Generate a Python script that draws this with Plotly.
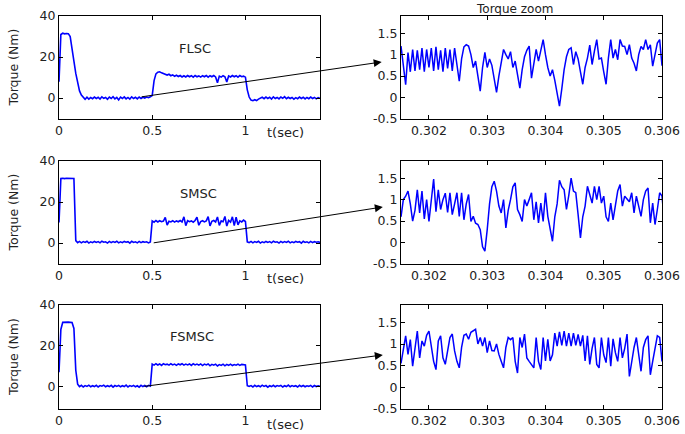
import numpy as np
import plotly.graph_objects as go

# ---------------- data ----------------
# full-run torque (Nm), sampled every 0.01 s from 0 to 1.40 s
t_full = np.round(np.arange(141) * 0.01, 2)

torque_flsc = [8, 31, 31.6, 31.3, 31.5, 31.4, 30.0, 25.0, 18.0, 12.0, 7.0, 3.5, 1.5, 0.2, -0.6,
               0.4, -0.5, 0.3, -0.3, 0.5, -0.2, 0.4, -0.5, 0.6, -0.1, 0.3, -0.6, 0.5, -0.2, 0.7,
               -0.4, 0.3, -0.9, 0.5, -0.2, 0.6, -0.4, 0.3, -0.5, 0.6, -0.2, 0.4, -0.4, 0.5, -0.2,
               0.4, 0.0, 0.5, 0.2, 0.6,
               1.2, 8.5, 11.8, 12.6, 12.8, 12.3, 12.0, 11.7, 11.2, 11.6,
               10.9, 11.3, 10.6, 11.1, 10.5, 11.0, 10.3, 10.9, 10.3, 11.0,
               10.4, 10.9, 10.2, 11.0, 10.4, 10.8, 10.2, 10.9, 10.4, 11.0,
               10.2, 10.9, 10.4, 11.0, 10.3, 7.5, 10.7, 10.2, 10.9, 10.4,
               7.8, 10.8, 10.3, 11.0, 10.4, 10.9, 10.2, 11.0, 10.4, 10.7,
               10.2, 4.0, 0.5, -1.0, -1.3, -0.8, -1.2, -0.5, -0.2, 0.4,
               -0.3, 0.5, -0.2, 0.4, -0.5, 0.6, -0.2, 0.3, -0.4, 0.5, -0.1, 0.7, -0.3, 0.4, -0.2,
               0.3, -0.5, 0.2, -0.3, 0.5, -0.2, 0.4, -0.4, 0.3, -0.3, 0.5, -0.2, 0.3, -0.4, 0.2, -0.1]

torque_smsc = [10, 31.5, 31.6, 31.4, 31.6, 31.5, 31.4, 31.6, 31.5, 1.2,
               0.2, 0.8, 0.1, 0.7, 0.3, 0.9, 0.0, 0.6, 0.2, 0.8,
               0.3, 0.7, 0.1, 0.9, 0.4, 0.6, 0.0, 0.8, 0.2, 0.7,
               0.3, 0.9, 0.1, 0.6, 0.2, 0.8, 0.4, 0.7, 0.0, 0.9,
               0.3, 0.6, 0.1, 0.8, 0.2, 0.7, 0.4, 0.6, 0.1, 0.5,
               10.8, 10.2, 11.0, 10.3, 10.9, 10.4, 10.7, 12.5, 8.8, 10.6,
               10.3, 10.9, 10.2, 10.8, 10.4, 11.0, 10.3, 12.8, 8.5, 10.9,
               10.4, 10.8, 10.2, 11.0, 12.6, 8.7, 10.5, 10.9, 10.3, 10.8,
               12.9, 8.4, 10.6, 11.0, 10.3, 12.7, 8.6, 10.8, 10.4, 13.0,
               8.3, 11.0, 10.2, 12.8, 8.5, 12.6, 8.9, 10.8, 10.3, 11.2,
               10.5, 0.6,
               0.2, 0.8, 0.1, 0.7, 0.3, 0.9, 0.0, 0.6, 0.2, 0.8,
               0.3, 0.7, 0.1, 0.9, 0.4, 0.6, 0.0, 0.8, 0.2, 0.7,
               0.3, 0.9, 0.1, 0.6, 0.2, 0.8, 0.4, 0.7, 0.0, 0.9,
               0.3, 0.6, 0.1, 0.8, 0.2, 0.7, 0.4, 0.6, 0.3]

torque_fsmsc = [7, 28, 31.5, 31.6, 31.4, 31.6, 31.5, 31.4, 28.5, 8.0, 1.2,
                0.0, 0.6, -0.2, 0.5, 0.1, 0.7, -0.1, 0.4, 0.0, 0.6,
                -0.2, 0.5, 0.2, 0.7, -0.1, 0.4, 0.0, 0.6, -0.3, 0.5,
                0.1, 0.6, -0.1, 0.4, 0.0, 0.7, -0.2, 0.5, 0.1, 0.6,
                -0.1, 0.4, -0.3, 0.6, 0.0, 0.5, -0.1, 0.6, 0.2,
                11.0, 10.5, 11.2, 10.6, 11.1, 10.4, 11.2, 10.7, 11.0, 10.5,
                11.2, 10.6, 11.0, 10.4, 11.1, 10.7, 11.2, 10.5, 11.0, 10.6,
                11.1, 10.4, 11.2, 10.6, 11.0, 10.5, 11.1, 10.3, 11.0, 10.6,
                11.1, 10.2, 10.9, 10.5, 11.0, 10.1, 10.8, 10.4, 11.0, 10.2,
                10.9, 10.4, 11.0, 10.3, 10.8, 10.5, 11.0, 10.4, 10.9, 10.6,
                10.6, 0.4,
                0.1, 0.5, -0.2, 0.6, 0.0, 0.4, -0.1, 0.7, 0.1, 0.5,
                -0.3, 0.4, 0.0, 0.6, -0.1, 0.5, 0.2, 0.6, -0.2, 0.4,
                0.0, 0.7, -0.1, 0.5, 0.1, 0.4, -0.2, 0.6, 0.0, 0.5,
                -0.1, 0.4, 0.1, 0.6, -0.2, 0.5, 0.0, 0.4, 0.1]

# zoomed torque (Nm), sampled every 0.04 ms from 0.30152 s
t_zoom = 0.30152 + np.arange(114) * 0.00004

zoom_flsc = [1.2, 0.75, 0.3, 1.05, 0.6, 1.12, 0.62, 1.1, 0.65, 1.15,
             0.6, 1.12, 0.7, 1.15, 0.62, 1.18, 0.65, 1.1, 0.6, 1.15,
             0.68, 1.12, 0.62, 1.15, 0.75, 0.38, 0.9, 1.18, 1.23, 1.2,
             1.0, 0.7, 0.85, 0.5, 0.15, 0.7, 1.05, 0.7, 0.9, 0.75,
             0.45, 0.12, 0.5, 0.85, 1.12, 1.0, 0.9, 1.07, 0.7, 0.85,
             0.55, 0.22, 0.65, 0.95, 1.1, 1.2, 0.45, 0.8, 1.12, 0.85,
             1.1, 1.35, 1.0, 0.7, 0.5, 0.65, 0.4, 0.05, -0.2, 0.2,
             0.65, 0.95, 1.12, 1.16, 0.77, 1.07, 0.9, 0.6, 0.31, 0.7,
             0.92, 1.22, 0.77, 1.08, 1.35, 0.9, 0.92, 0.6, 0.31, 0.92,
             1.35, 0.92, 1.12, 0.88, 1.35, 1.2, 1.19, 1.0, 1.23, 0.92,
             0.8, 0.62, 1.0, 1.19, 1.12, 1.35, 1.12, 1.23, 0.73, 1.0,
             1.27, 1.35, 0.74, 1.07]

zoom_smsc = [0.6, 1.0, 1.08, 1.2, 0.9, 0.5, 0.75, 1.23, 0.69, 1.2,
             0.55, 1.0, 0.49, 1.0, 1.48, 0.72, 1.23, 0.77, 1.0, 1.15,
             0.7, 1.16, 0.65, 0.9, 1.16, 0.61, 1.16, 0.53, 0.9, 1.12,
             0.49, 0.61, 0.45, 0.42, 0.3, -0.1, -0.2, 0.3, 0.9, 1.3,
             1.43, 1.2, 0.85, 0.69, 1.0, 0.34, 0.75, 1.0, 1.3, 1.39,
             0.77, 0.65, 0.49, 1.0, 0.85, 1.0, 1.16, 0.53, 0.95, 0.46,
             0.92, 0.49, 1.16, 0.61, 0.3, 0.03, 0.6, 0.9, 1.45, 1.3,
             1.23, 0.77, 1.1, 1.5, 1.2, 1.16, 0.65, 0.11, 0.6, 0.85,
             1.31, 1.12, 0.92, 1.31, 1.0, 1.31, 0.92, 1.08, 0.6, 0.49,
             0.92, 0.53, 0.88, 1.2, 1.35, 0.85, 1.08, 1.0, 0.95, 1.16,
             0.69, 1.08, 0.8, 0.61, 1.0, 1.2, 1.27, 0.46, 0.92, 0.42,
             0.77, 1.16, 1.08, 0.5]

zoom_fsmsc = [0.55, 0.9, 1.19, 0.76, 1.1, 0.49, 0.95, 1.3, 0.68, 1.07,
              0.95, 1.2, 1.3, 0.92, 0.6, 0.41, 1.07, 1.19, 0.68, 0.53,
              0.9, 1.15, 1.23, 0.84, 0.6, 0.45, 0.92, 1.2, 1.23, 1.11,
              1.27, 1.3, 1.34, 1.0, 1.15, 0.95, 1.15, 0.8, 1.07, 0.85,
              0.84, 1.0, 0.76, 0.6, 0.45, 0.92, 1.15, 1.1, 1.15, 0.6,
              0.33, 1.15, 0.92, 1.23, 0.68, 0.6, 0.53, 0.45, 1.15, 0.6,
              0.41, 1.15, 0.61, 1.11, 0.61, 0.75, 1.25, 0.95, 1.28, 0.97,
              1.3, 0.95, 1.25, 0.95, 1.25, 0.97, 1.22, 0.95, 1.2, 0.61,
              1.19, 0.53, 0.9, 1.15, 0.53, 0.45, 1.15, 0.75, 0.57, 1.15,
              0.49, 1.12, 0.8, 0.6, 1.15, 0.68, 0.9, 1.23, 0.25, 0.6,
              0.92, 1.15, 0.75, 0.37, 0.92, 1.1, 1.19, 0.29, 0.6, 0.92,
              1.19, 1.15, 0.6, 0.95]

controllers = ["FLSC", "SMSC", "FSMSC"]
full_series = [torque_flsc, torque_smsc, torque_fsmsc]
zoom_series = [zoom_flsc, zoom_smsc, zoom_fsmsc]

left_xticks = [0, 0.5, 1]
left_xtext = ["0", "0.5", "1"]
left_yticks = [0, 20, 40]
left_ytext = ["0", "20", "40"]
right_xticks = [0.302, 0.303, 0.304, 0.305, 0.306]
right_xtext = ["0.302", "0.303", "0.304", "0.305", "0.306"]
right_yticks = [-0.5, 0, 0.5, 1, 1.5]
right_ytext = ["-0.5", "0", "0.5", "1", "1.5"]

# label positions (data coords of left panels) and arrow geometry
title_pos = [(0.73, 24.4), (0.75, 24.4), (0.715, 24.7)]
arrow_tail = [(0.435, 0.5), (0.5, 0.0), (0.45, 0.0)]
arrow_head = [(1.731, 17.6), (1.737, 17.6), (1.737, 15.5)]

# ---------------- layout ----------------
W, H = 685, 434
FONT = "DejaVu Sans, Liberation Sans, Arial, sans-serif"
TXT = "#222222"
rows_px = [(16, 119), (161, 264), (305, 409)]
tsec_y_px = [132, 278, 424]
left_px = (59, 320)
right_px = (401, 662)
left_yrange = [[-10.2, 40], [-10.2, 40], [-11, 40]]

fig = go.Figure()
layout = dict(width=W, height=H, margin=dict(l=0, r=0, t=0, b=0, autoexpand=False),
              paper_bgcolor="white", plot_bgcolor="white", showlegend=False,
              font=dict(family=FONT, size=12, color=TXT))

axis_style = dict(showline=True, linecolor="black", linewidth=1, mirror="ticks",
                  ticks="inside", ticklen=4, tickcolor="black", tickwidth=1,
                  showgrid=False, zeroline=False, automargin=False,
                  tickfont=dict(family=FONT, size=12.5, color=TXT))

annotations = []
for r in range(3):
    top, bot = rows_px[r]
    ydom = [1 - bot / H, 1 - top / H]
    li, ri = 2 * r + 1, 2 * r + 2
    lx = "x" if li == 1 else f"x{li}"
    ly = "y" if li == 1 else f"y{li}"
    rx, ry = f"x{ri}", f"y{ri}"

    fig.add_trace(go.Scatter(x=t_full, y=full_series[r], mode="lines",
                             line=dict(color="#0000ff", width=1.6),
                             xaxis=lx, yaxis=ly, hoverinfo="skip"))
    fig.add_trace(go.Scatter(x=t_zoom, y=zoom_series[r], mode="lines",
                             line=dict(color="#0000ff", width=1.5),
                             xaxis=rx, yaxis=ry, hoverinfo="skip"))

    layout[f"xaxis{li}"] = dict(axis_style, domain=[left_px[0] / W, left_px[1] / W],
                                range=[0, 1.4], anchor=ly,
                                tickvals=left_xticks, ticktext=left_xtext)
    layout[f"yaxis{li}"] = dict(axis_style, domain=ydom, range=left_yrange[r], anchor=lx,
                                tickvals=left_yticks, ticktext=left_ytext)
    layout[f"xaxis{ri}"] = dict(axis_style, domain=[right_px[0] / W, right_px[1] / W],
                                range=[0.30152, 0.306], anchor=ry,
                                tickvals=right_xticks, ticktext=right_xtext)
    layout[f"yaxis{ri}"] = dict(axis_style, domain=ydom, range=[-0.5, 1.9], anchor=rx,
                                tickvals=right_yticks, ticktext=right_ytext)

    # controller name
    annotations.append(dict(xref=lx, yref=ly, x=title_pos[r][0], y=title_pos[r][1],
                            xanchor="center", yanchor="middle",
                            text=controllers[r], showarrow=False,
                            font=dict(family=FONT, size=13, color=TXT)))
    # y-axis title
    annotations.append(dict(xref="paper", yref="paper", x=13 / W, y=1 - (top + bot) / 2 / H,
                            xanchor="center", yanchor="middle",
                            text="Torque (Nm)", textangle=-90, showarrow=False,
                            font=dict(family=FONT, size=12.5, color=TXT)))
    # x label
    annotations.append(dict(xref="paper", yref="paper", x=285 / W, y=1 - tsec_y_px[r] / H,
                            xanchor="center", yanchor="middle",
                            text="t(sec)", showarrow=False,
                            font=dict(family=FONT, size=13, color=TXT)))
    # arrow from left panel to zoom panel
    annotations.append(dict(xref=lx, yref=ly, axref=lx, ayref=ly,
                            x=arrow_head[r][0], y=arrow_head[r][1],
                            ax=arrow_tail[r][0], ay=arrow_tail[r][1],
                            text="", showarrow=True, arrowhead=2, arrowsize=1.6,
                            arrowwidth=1, arrowcolor="black", standoff=0))

annotations.append(dict(xref="paper", yref="paper", x=514 / W, y=1.0,
                        xanchor="center", yanchor="top",
                        text="Torque zoom", showarrow=False,
                        font=dict(family=FONT, size=12, color=TXT)))
layout["annotations"] = annotations

fig.update_layout(**layout)
fig.write_html("out.html")
